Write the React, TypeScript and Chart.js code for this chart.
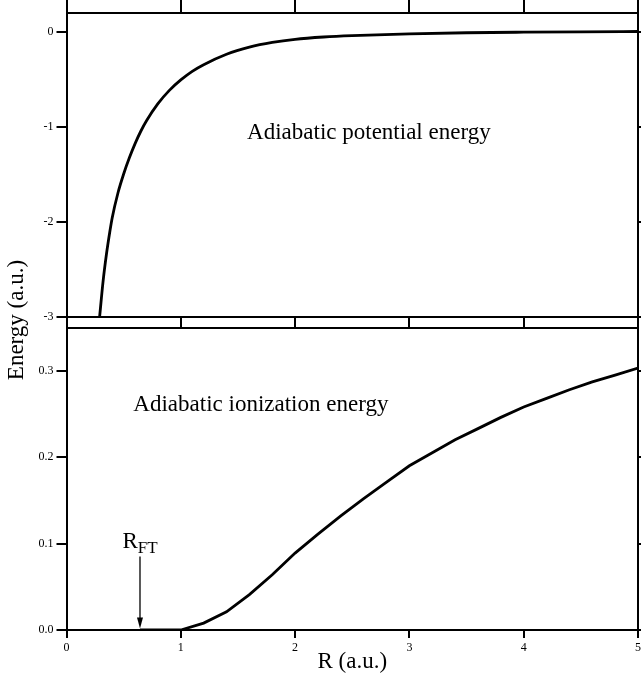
import React, { useEffect, useRef } from 'react';
import { Chart, registerables } from 'chart.js';

Chart.register(...registerables);

// ---- data ----
const R_TOP = [0.29, 0.32, 0.35, 0.38, 0.40, 0.45, 0.50, 0.55, 0.60, 0.65, 0.70, 0.80, 0.90, 1.00, 1.10, 1.20, 1.40, 1.60, 1.80, 2.00, 2.25, 2.50, 3.00, 3.50, 4.00, 4.50, 5.00];
const E_TOP = [-3.00, -2.63, -2.34, -2.10, -1.96, -1.70, -1.50, -1.33, -1.18, -1.05, -0.94, -0.76, -0.62, -0.51, -0.42, -0.35, -0.24, -0.165, -0.115, -0.082, -0.058, -0.043, -0.024, -0.013, -0.007, -0.003, 0.0];

const R_BOT = [0.643, 0.8, 1.0, 1.2, 1.4, 1.6, 1.8, 2.0, 2.2, 2.4, 2.6, 2.8, 3.0, 3.2, 3.4, 3.6, 3.8, 4.0, 4.2, 4.4, 4.6, 4.8, 5.0];
const E_BOT = [0, 0, 0, 0.008, 0.021, 0.041, 0.064, 0.089, 0.111, 0.132, 0.152, 0.171, 0.190, 0.205, 0.220, 0.233, 0.246, 0.258, 0.268, 0.278, 0.287, 0.295, 0.303];

const X_TICKS = [0, 1, 2, 3, 4, 5];
const Y_TOP_TICKS = [-3, -2, -1, 0];
const Y_BOT_TICKS = [0, 0.1, 0.2, 0.3];

const X_TITLE = 'R (a.u.)';
const Y_TITLE = 'Energy (a.u.)';
const TOP_NOTE = 'Adiabatic potential energy';
const BOT_NOTE = 'Adiabatic ionization energy';
const RFT_MAIN = 'R';
const RFT_SUB = 'FT';
const R_FT = 0.643;

// ---- annotation anchors (data coordinates) ----
const TOP_NOTE_AT = [1.58, -1.13];
const BOT_NOTE_AT = [0.585, 0.253];
const RFT_LABEL_AT = [0.49, 0.095];
const ARROW_FROM_E = 0.085;

// ---- layout ----
const W = 642;
const H = 679;
const LEFT = 66.5;
const RIGHT_GAP = 4;
const TOP_PANEL_TOP = 12.5;
const TOP_PANEL_BOTTOM = 316.5;
const BOT_PANEL_TOP = 327.5;
const BOT_PANEL_BOTTOM = 630;
const SERIF = '"Liberation Serif", "Times New Roman", Times, serif';
const INK = '#000';
const TICK_FONT = { family: SERIF, size: 12 };

const setTicks = (vals: number[]) => (scale: any) => {
  scale.ticks = vals.map((v) => ({ value: v }));
};
const fixH = (h: number) => (scale: any) => {
  scale.height = h;
  scale.paddingLeft = 0;
  scale.paddingRight = 0;
};
const fixW = (w: number) => (scale: any) => {
  scale.width = w;
  scale.paddingTop = 0;
  scale.paddingBottom = 0;
};

const border = { display: true, color: INK, width: 2 };

function hAxis(position: string, tickLen: number, height: number, showLabels: boolean, extra: any = {}) {
  return {
    type: 'linear',
    position,
    min: 0,
    max: 5,
    afterBuildTicks: setTicks(X_TICKS),
    afterFit: fixH(height),
    ticks: {
      display: showLabels,
      autoSkip: false,
      maxRotation: 0,
      padding: 3,
      color: INK,
      font: TICK_FONT,
      callback: (v: number) => String(v),
    },
    grid: {
      display: true,
      drawOnChartArea: false,
      drawTicks: tickLen > 0,
      tickLength: tickLen,
      color: INK,
      lineWidth: 2,
    },
    border,
    ...extra,
  };
}

function leftAxis(min: number, max: number, ticks: number[], fmt: (v: number) => string) {
  return {
    type: 'linear',
    position: 'left',
    min,
    max,
    afterBuildTicks: setTicks(ticks),
    afterFit: fixW(LEFT),
    ticks: {
      padding: 3,
      color: INK,
      font: TICK_FONT,
      callback: (v: number) => fmt(v),
    },
    grid: {
      display: true,
      drawOnChartArea: false,
      drawTicks: true,
      tickLength: 10,
      color: INK,
      lineWidth: 2,
    },
    border,
  };
}

function rightAxis(min: number, max: number, ticks: number[]) {
  return {
    type: 'linear',
    position: 'right',
    min,
    max,
    afterBuildTicks: setTicks(ticks),
    afterFit: fixW(RIGHT_GAP),
    ticks: { display: false },
    grid: {
      display: true,
      drawOnChartArea: false,
      drawTicks: true,
      tickLength: 3,
      color: INK,
      lineWidth: 2,
    },
    border,
  };
}

const topNotes = {
  id: 'topNotes',
  afterDatasetsDraw(chart: any) {
    const { ctx, scales } = chart;
    const x = scales.x;
    const y = scales.y;
    ctx.save();
    ctx.fillStyle = INK;
    ctx.font = `23px ${SERIF}`;
    ctx.textAlign = 'left';
    ctx.textBaseline = 'alphabetic';
    ctx.fillText(TOP_NOTE, x.getPixelForValue(TOP_NOTE_AT[0]), y.getPixelForValue(TOP_NOTE_AT[1]));
    ctx.restore();
  },
};

const bottomNotes = {
  id: 'bottomNotes',
  afterDatasetsDraw(chart: any) {
    const { ctx, scales } = chart;
    const x = scales.x;
    const y = scales.y;
    ctx.save();
    ctx.fillStyle = INK;
    ctx.strokeStyle = INK;
    ctx.textAlign = 'left';
    ctx.textBaseline = 'alphabetic';

    // ionization label
    ctx.font = `23px ${SERIF}`;
    ctx.fillText(BOT_NOTE, x.getPixelForValue(BOT_NOTE_AT[0]), y.getPixelForValue(BOT_NOTE_AT[1]));

    // R_FT label
    const lx = x.getPixelForValue(RFT_LABEL_AT[0]);
    const ly = y.getPixelForValue(RFT_LABEL_AT[1]);
    ctx.font = `23px ${SERIF}`;
    ctx.fillText(RFT_MAIN, lx, ly);
    const rw = ctx.measureText(RFT_MAIN).width;
    ctx.font = `17px ${SERIF}`;
    ctx.fillText(RFT_SUB, lx + rw, ly + 5);

    // arrow
    const ax = x.getPixelForValue(R_FT);
    const ay0 = y.getPixelForValue(ARROW_FROM_E);
    const ay1 = y.getPixelForValue(0) - 1.5;
    ctx.lineWidth = 1.3;
    ctx.beginPath();
    ctx.moveTo(ax, ay0);
    ctx.lineTo(ax, ay1 - 8);
    ctx.stroke();
    ctx.beginPath();
    ctx.moveTo(ax, ay1);
    ctx.lineTo(ax - 3, ay1 - 11);
    ctx.lineTo(ax + 3, ay1 - 11);
    ctx.closePath();
    ctx.fill();

    // shared y title spanning both panels
    ctx.font = `23px ${SERIF}`;
    ctx.textAlign = 'center';
    ctx.textBaseline = 'middle';
    ctx.translate(17, 320);
    ctx.rotate(-Math.PI / 2);
    ctx.fillText(Y_TITLE, 0, 0);
    ctx.restore();
  },
};

export default function App() {
  const topRef = useRef<HTMLCanvasElement>(null);
  const botRef = useRef<HTMLCanvasElement>(null);

  useEffect(() => {
    const topData = R_TOP.map((r, i) => ({ x: r, y: E_TOP[i] }));
    const botData = R_BOT.map((r, i) => ({ x: r, y: E_BOT[i] }));

    const common = {
      responsive: false,
      maintainAspectRatio: false,
      animation: false,
      devicePixelRatio: 1,
      events: [],
    };

    const top = new Chart(topRef.current as HTMLCanvasElement, {
      type: 'line',
      data: {
        datasets: [
          {
            data: topData,
            xAxisID: 'x',
            yAxisID: 'y',
            borderColor: INK,
            borderWidth: 2.8,
            pointRadius: 0,
            fill: false,
            cubicInterpolationMode: 'monotone',
          },
        ],
      },
      options: {
        ...common,
        layout: { padding: { left: 0, right: 0, top: 0, bottom: H - BOT_PANEL_TOP } },
        plugins: { legend: { display: false }, tooltip: { enabled: false } },
        scales: {
          x: hAxis('bottom', BOT_PANEL_TOP - TOP_PANEL_BOTTOM, BOT_PANEL_TOP - TOP_PANEL_BOTTOM, false),
          xTop: hAxis('top', TOP_PANEL_TOP, TOP_PANEL_TOP, false),
          y: leftAxis(-3, 0.2, Y_TOP_TICKS, (v) => String(v)),
          yRight: rightAxis(-3, 0.2, Y_TOP_TICKS),
        },
      } as any,
      plugins: [topNotes],
    } as any);

    const bot = new Chart(botRef.current as HTMLCanvasElement, {
      type: 'line',
      data: {
        datasets: [
          {
            data: botData,
            xAxisID: 'x',
            yAxisID: 'y',
            borderColor: INK,
            borderWidth: 2.8,
            pointRadius: 0,
            fill: false,
            tension: 0,
          },
        ],
      },
      options: {
        ...common,
        layout: { padding: { left: 0, right: 0, top: BOT_PANEL_TOP, bottom: 0 } },
        plugins: { legend: { display: false }, tooltip: { enabled: false } },
        scales: {
          x: hAxis('bottom', 8, H - BOT_PANEL_BOTTOM, true, {
            title: {
              display: true,
              text: X_TITLE,
              color: INK,
              font: { family: SERIF, size: 23 },
              padding: { top: 0, bottom: 3 },
            },
          }),
          xTop: hAxis('top', 0, 0, false),
          y: leftAxis(0, 0.35, Y_BOT_TICKS, (v) => v.toFixed(1)),
          yRight: rightAxis(0, 0.35, Y_BOT_TICKS),
        },
      } as any,
      plugins: [bottomNotes],
    } as any);

    return () => {
      top.destroy();
      bot.destroy();
    };
  }, []);

  const canvasStyle: React.CSSProperties = {
    position: 'absolute',
    left: 0,
    top: 0,
    width: W,
    height: H,
    display: 'block',
  };

  return (
    <div style={{ position: 'absolute', left: 0, top: 0, width: W, height: H, background: '#fff', overflow: 'hidden' }}>
      <canvas ref={topRef} width={W} height={H} style={canvasStyle} />
      <canvas ref={botRef} width={W} height={H} style={canvasStyle} />
    </div>
  );
}
